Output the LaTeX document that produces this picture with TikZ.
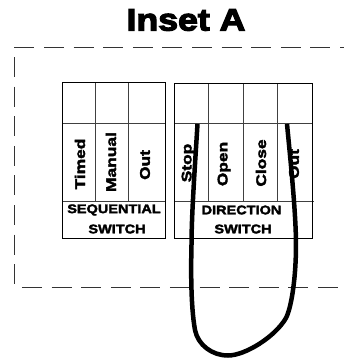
\documentclass[tikz,border=0pt]{standalone}
\usepackage{fontspec}
\setmainfont{Liberation Sans}
\newfontfamily\heavy[UprightFont={* Bold},UprightFeatures={FakeBold=2.6,FakeStretch=1.16}]{Liberation Sans}
\newfontfamily\heavylab[UprightFont={* Bold},UprightFeatures={FakeBold=2.6,FakeStretch=1.24}]{Liberation Sans}
\newfontfamily\heavytitle[UprightFont={* Bold},UprightFeatures={FakeBold=4,FakeStretch=1.15}]{Liberation Sans}
\tikzset{
  grid/.style={draw=black!75,line width=0.7pt},
  frame/.style={draw=black,line width=0.8pt},
  dashline/.style={draw=black!80,line width=0.7pt,dash pattern=on 20pt off 9.6pt},
  cable/.style={draw=black,line width=4.5pt,line cap=butt},
  lab/.style={font=\heavylab\fontsize{14}{16}\selectfont,rotate=90,anchor=center,inner sep=0pt},
  head/.style={font=\heavy\fontsize{12.5}{14}\selectfont,inner sep=0pt,anchor=center}
}
\begin{document}
\begin{tikzpicture}[x=1pt,y=-1pt]
\useasboundingbox (0,0) rectangle (344,360);
\node[font=\heavytitle\fontsize{31}{34}\selectfont,inner sep=0pt,anchor=center,text=black] (title) at (186,20) {Inset A};
\coordinate (tl) at (14.5,47); \coordinate (tr) at (344,47);
\coordinate (ml) at (14.5,57); \coordinate (bl) at (14.5,286);
\coordinate (bs) at (22,287); \coordinate (br) at (344,287);
\draw[dashline] (tl) -- (tr);
\draw[dashline] (ml) -- (bl);
\draw[dashline] (bs) -- (br);
% left panel
\draw[grid] (95,82) -- (95,201) (128,82) -- (128,201) (62.5,123) -- (165,123) (62.5,201) -- (165,201);
\draw[frame] (62.5,82) rectangle (165,238);
\node[lab] (timed) at (80,164) {Timed};
\node[lab] (manual) at (111,162) {Manual};
\node[lab] (out1) at (145,165) {Out};
\node[head] (seq) at (114,210) {SEQUENTIAL};
\node[head] (sw1) at (117,229) {SWITCH};
% right panel
\draw[grid] (208,83) -- (208,201) (243,83) -- (243,201) (277,83) -- (277,201) (174,123) -- (312,123) (174,201) -- (314,201);
\draw[frame] (174,83) rectangle (312,238);
\node[lab] (stop) at (188,163) {Stop};
\node[lab] (open) at (224,164) {Open};
\node[lab] (close) at (261,163) {Close};
\node[lab] (out2) at (294,164) {Out};
\node[head] (dir) at (241.5,210) {DIRECTION};
\node[head] (sw2) at (243,229) {SWITCH};
% cable
\coordinate (c1) at (197.5,124); \coordinate (c2) at (287,124);
\draw[cable] (c1) .. controls (195,165) and (191.5,215) .. (191.5,245)
  .. controls (191,265) and (190.5,305) .. (195,330)
  .. controls (198,345) and (212,355.5) .. (228,355.5)
  .. controls (245,355.5) and (275,337) .. (286,318)
  .. controls (292,306) and (296,275) .. (296,245)
  .. controls (296,215) and (291,165) .. (c2);
\end{tikzpicture}
\end{document}
